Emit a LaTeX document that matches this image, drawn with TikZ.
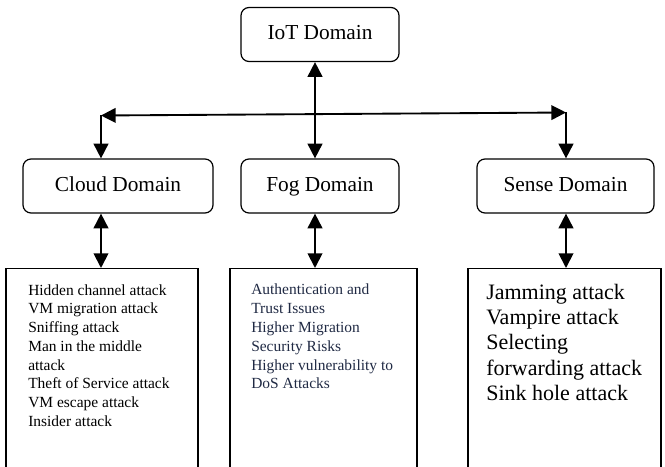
\documentclass[tikz,border=0pt]{standalone}
\usepackage{fontspec}
\setmainfont{Liberation Serif}
\usepackage{tikz}
\usetikzlibrary{arrows.meta}

\definecolor{fogtext}{RGB}{32,42,68}

\begin{document}
\begin{tikzpicture}[x=0.75pt,y=-0.75pt]
\tikzstyle{domainbox}=[draw,line width=0.9pt,rounded corners=6pt,minimum height=40.5pt,text height=11pt,text depth=3pt,font=\fontsize{16}{19}\selectfont]
\tikzstyle{attackbox}=[draw,line width=0.9pt,anchor=north,minimum height=160pt]
\tikzstyle{oneway}=[line width=1.4pt,-{Triangle[length=11pt,width=11pt]}]
\tikzstyle{twoway}=[line width=1.4pt,{Triangle[length=11pt,width=11pt]}-{Triangle[length=11pt,width=11pt]}]
\clip (0,0) rectangle (665,467);

\node[domainbox,minimum width=118.5pt] (iot) at (320,34.5) {IoT Domain};
\node[domainbox,minimum width=142.5pt] (cloud) at (118,186) {Cloud Domain};
\node[domainbox,minimum width=118.5pt] (fog) at (320,186) {Fog Domain};
\node[domainbox,minimum width=132.75pt] (sense) at (565.5,186) {Sense Domain};

\node[attackbox,minimum width=144pt] (cloudatk) at (102,268) {};
\node[attackbox,minimum width=140.25pt] (fogatk) at (323.5,268) {};
\node[attackbox,minimum width=144.75pt] (senseatk) at (564.5,268) {};

\node[anchor=north west,inner sep=0pt,align=left,font=\fontsize{11.6}{14.1}\selectfont] (cloudtxt) at (28,284)
  {Hidden channel attack\\VM migration attack\\Sniffing attack\\Man in the middle\\attack\\Theft of Service attack\\VM escape attack\\Insider attack};
\node[anchor=north west,inner sep=0pt,align=left,text=fogtext,font=\fontsize{11.6}{14.1}\selectfont] (fogtxt) at (251,284)
  {Authentication and\\Trust Issues\\Higher Migration\\Security Risks\\Higher vulnerability to\\DoS Attacks};
\node[anchor=north west,inner sep=0pt,align=left,font=\fontsize{16.5}{19.1}\selectfont] (sensetxt) at (486,283.5)
  {Jamming attack\\Vampire attack\\Selecting\\forwarding attack\\Sink hole attack};

\coordinate (hl) at (101,115.5);
\coordinate (hm) at (315,114);
\coordinate (hr) at (566,112.5);

\draw[twoway] (hl) -- (hr);
\draw[twoway] (iot.south -| hm) -- (fog.north -| hm);
\draw[oneway] (hl) -- (cloud.north -| hl);
\draw[oneway] (hr) -- (sense.north -| hr);

\draw[twoway] (cloud.south -| hl) -- (cloudatk.north -| hl);
\draw[twoway] (fog.south -| hm) -- (fogatk.north -| hm);
\draw[twoway] (sense.south -| hr) -- (senseatk.north -| hr);
\end{tikzpicture}
\end{document}
